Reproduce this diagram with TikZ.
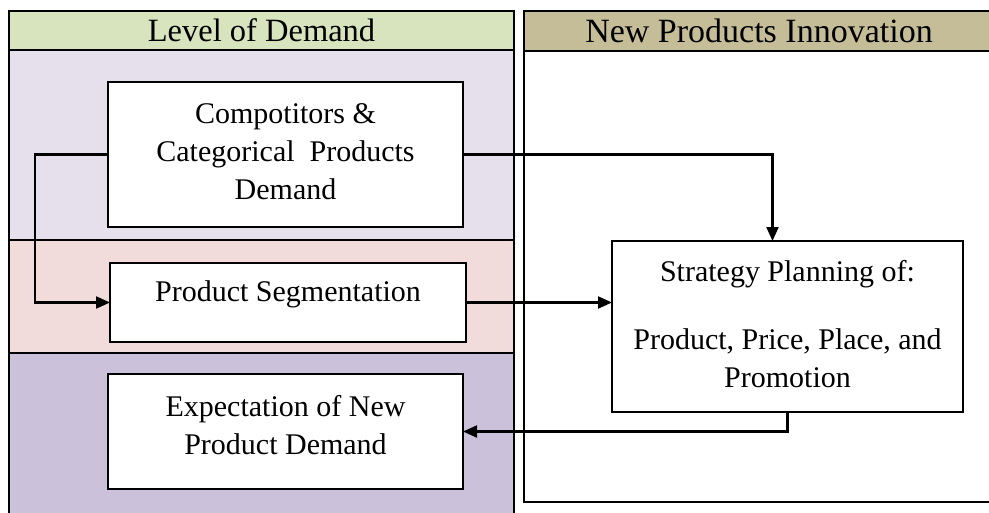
\documentclass[tikz,border=0pt]{standalone}
\usepackage{fontspec}
\setmainfont{Liberation Serif}
\usetikzlibrary{positioning}
\usetikzlibrary{arrows.meta}
\definecolor{demandgreen}{HTML}{D7E4BD}
\definecolor{innovtan}{HTML}{C4BD97}
\definecolor{lightpurple}{HTML}{E5E0EC}
\definecolor{lightpink}{HTML}{F2DCDB}
\definecolor{darkpurple}{HTML}{CCC1DA}
\tikzset{
  band/.style={draw,line width=1.5pt,minimum width=505pt,inner sep=0pt,outer sep=0pt},
  stepbox/.style={draw,fill=white,line width=2.2pt,align=center,inner sep=0pt,outer sep=0pt,
    font=\fontsize{30}{38}\selectfont},
  flow/.style={line width=2.1pt,-{Triangle[length=14pt,width=12pt]}},
}

\begin{document}
\begin{tikzpicture}[x=1pt,y=-1pt]
  \useasboundingbox (0,0) rectangle (989,512);
  \clip (0,0) rectangle (989,512);
  % left column
  \node[band,fill=demandgreen,minimum height=39pt,font=\fontsize{32.5}{36}\selectfont](demandhead) at (261.5,30.5) {Level of Demand};
  \node[band,fill=lightpurple,minimum height=190pt,below=0pt of demandhead](compband) {};
  \node[band,fill=lightpink,minimum height=113pt,below=0pt of compband](segband) {};
  \node[band,fill=darkpurple,minimum height=180pt,below=0pt of segband](expband) {};
  % right column
  \node[band,fill=innovtan,minimum width=470pt,minimum height=40pt,font=\fontsize{34}{36}\selectfont](innovhead) at (759,31) {New Products Innovation};
  \node[band,minimum width=470pt,minimum height=451pt,below=0pt of innovhead](innovband) {};
  % boxes
  \node[stepbox,minimum width=355pt,minimum height=145pt,text depth=6pt](compdemand) at (285.5,154.5) {Compotitors \&\\Categorical\ \ Products\\Demand};
  \node[stepbox,minimum width=356pt,minimum height=79pt,text depth=22pt,below=36pt of compdemand,xshift=2.5pt](segment) {Product Segmentation};
  \node[stepbox,minimum width=355pt,minimum height=115pt,text depth=14pt,below=32pt of segment,xshift=-2.5pt](expect) {Expectation of New\\Product Demand};
  \node[stepbox,minimum width=351pt,minimum height=171pt,text depth=6pt](strategy) at (787.5,326.5) {Strategy Planning of:\\[30pt]Product, Price, Place, and\\Promotion};
  \draw[flow] (compdemand.west)--++(-73,0) |- (segment.west);
  \draw[flow] (compdemand.east) -| ([xshift=-15pt]strategy.north);
  \draw[flow] (segment.east)--(segment.east -| strategy.west);
  \draw[flow] (strategy.south) |- (expect.east);
\end{tikzpicture}
\end{document}
